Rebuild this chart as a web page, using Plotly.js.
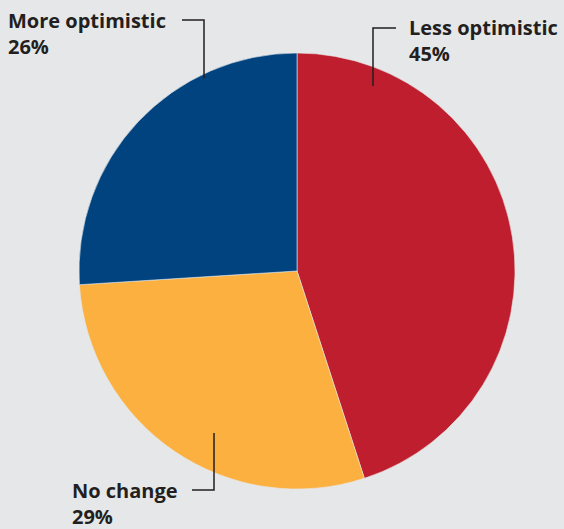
<!DOCTYPE html>
<html>
<head>
<meta charset="utf-8">
<script src="https://cdn.plot.ly/plotly-3.0.1.min.js"></script>
<style>html,body{margin:0;padding:0;background:#e6e7e8;}#chart{width:564px;height:529px;}</style>
</head>
<body>
<div id="chart"></div>
<script>
const categories = ["Less optimistic", "No change", "More optimistic"];
const values = [45, 29, 26];
const colors = ["#be1e2d", "#fbb040", "#00437f"];

const W = 564, H = 529;
const px = x => x / W;
const py = y => 1 - y / H;

const trace = {
  type: "pie",
  labels: categories,
  values: values,
  sort: false,
  direction: "clockwise",
  rotation: 0,
  textinfo: "none",
  hoverinfo: "label+percent",
  marker: {colors: colors, line: {color: "#e6e7e8", width: 0.6}},
  domain: {x: [px(79), px(515)], y: [py(489), py(53)]},
  showlegend: false
};

const font = {family: "Open Sans, Lato, sans-serif", size: 20, color: "#231f20", weight: 700};
const pct = v => v + "%";

const labelPos = [
  {x: 407, y: 41, anchor: "left"},
  {x: 70, y: 503, anchor: "left"},
  {x: 6, y: 33, anchor: "left"}
];

const annotations = categories.map((c, i) => ({
  xref: "paper", yref: "paper",
  x: px(labelPos[i].x), y: py(labelPos[i].y),
  xanchor: labelPos[i].anchor, yanchor: "middle",
  align: "left",
  showarrow: false,
  text: "<b>" + c + "</b><br><b>" + pct(values[i]) + "</b>",
  font: font
}));

const lineStyle = {color: "#231f20", width: 1.5};
const path = pts => "M" + pts.map(p => px(p[0]) + "," + py(p[1])).join(" L");
const shapes = [
  {type: "path", xref: "paper", yref: "paper", path: path([[396, 28], [373, 28], [373, 86]]), line: lineStyle},
  {type: "path", xref: "paper", yref: "paper", path: path([[192, 490], [214, 490], [214, 433]]), line: lineStyle},
  {type: "path", xref: "paper", yref: "paper", path: path([[182, 20], [204, 20], [204, 78]]), line: lineStyle}
];

const layout = {
  width: W, height: H,
  margin: {l: 0, r: 0, t: 0, b: 0},
  paper_bgcolor: "#e6e7e8",
  plot_bgcolor: "#e6e7e8",
  annotations: annotations,
  shapes: shapes
};

Plotly.newPlot("chart", [trace], layout, {displayModeBar: false, staticPlot: true});
</script>
</body>
</html>
